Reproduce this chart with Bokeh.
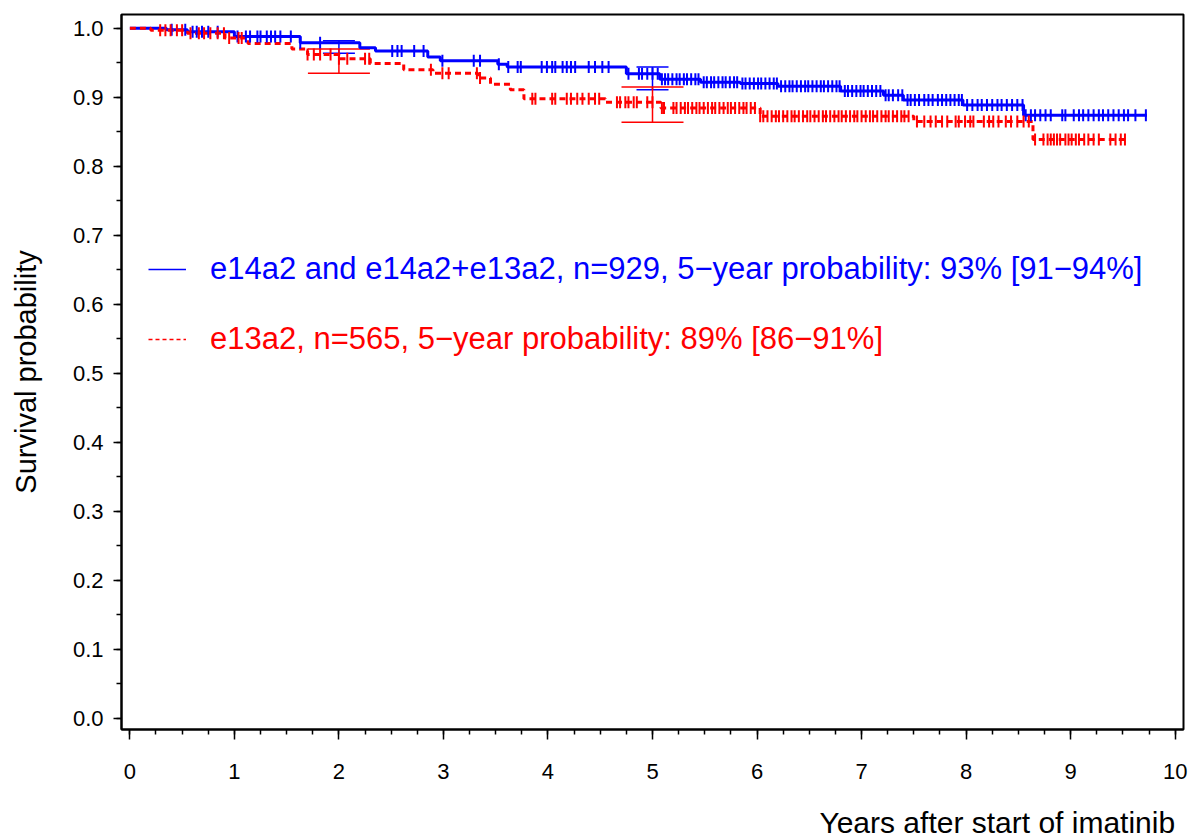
import numpy as np
from bokeh.plotting import figure
from bokeh.layouts import column
from bokeh.models import (Range1d, Whisker, TeeHead, ColumnDataSource, Legend,
                          LegendItem, Label, FixedTicker, NumeralTickFormatter)
from bokeh.embed import file_html
from bokeh.resources import INLINE

# ---------------- data ----------------
blue_label = "e14a2 and e14a2+e13a2, n=929, 5\u2212year probability: 93% [91\u221294%]"
red_label = "e13a2, n=565, 5\u2212year probability: 89% [86\u221291%]"

blue_t = [0, 0.35, 0.55, 1.0, 1.63, 2.20, 2.35, 2.85, 2.97, 3.52, 3.61, 4.75, 5.07,
          5.46, 5.84, 6.20, 6.80, 7.21, 7.40, 7.97, 8.55, 9.73]
blue_s = [1.0, 0.998, 0.995, 0.988, 0.979, 0.972, 0.967, 0.9585, 0.953, 0.948, 0.944,
          0.934, 0.926, 0.922, 0.920, 0.916, 0.909, 0.903, 0.896, 0.889, 0.874, 0.874]

red_t = [0, 0.20, 0.55, 0.91, 1.13, 1.55, 1.70, 2.00, 2.30, 2.62, 2.90, 3.33, 3.45,
         3.64, 3.77, 4.55, 5.08, 6.03, 7.50, 8.64, 9.55]
red_s = [1.0, 0.997, 0.993, 0.986, 0.978, 0.970, 0.962, 0.956, 0.949, 0.940, 0.935,
         0.928, 0.919, 0.911, 0.898, 0.893, 0.8845, 0.8725, 0.865, 0.839, 0.839]

blue_censor = [0.40, 0.53, 0.60, 0.64, 0.69, 0.75, 0.84, 1.03, 1.11, 1.15, 1.22, 1.25,
               1.31, 1.35, 1.39, 1.44, 1.54, 1.63, 1.82, 2.51, 2.56, 2.60, 2.72, 2.81,
               2.99, 3.29, 3.35, 3.53, 3.62, 3.71, 3.74, 3.94, 3.99, 4.04, 4.07, 4.14,
               4.18, 4.22, 4.26, 4.39, 4.45, 4.52, 4.58, 4.77, 4.87, 4.90, 4.95, 5.00,
               5.05, 5.09, 5.12, 5.15, 5.19, 5.23, 5.26, 5.30, 5.33, 5.37, 5.41, 5.44,
               5.49, 5.52, 5.56, 5.59, 5.63, 5.67, 5.70, 5.74, 5.78, 5.81, 5.86, 5.89,
               5.93, 5.97, 6.01, 6.04, 6.08, 6.12, 6.16, 6.19, 6.23, 6.27, 6.31, 6.34,
               6.38, 6.42, 6.46, 6.49, 6.53, 6.57, 6.61, 6.64, 6.68, 6.72, 6.76, 6.79,
               6.84, 6.87, 6.91, 6.95, 6.99, 7.02, 7.06, 7.10, 7.14, 7.18, 7.23, 7.26,
               7.30, 7.35, 7.39, 7.44, 7.47, 7.51, 7.55, 7.60, 7.64, 7.68, 7.73, 7.77,
               7.81, 7.85, 7.89, 7.93, 7.96, 8.01, 8.06, 8.11, 8.15, 8.20, 8.25, 8.30,
               8.34, 8.39, 8.44, 8.49, 8.54, 8.57, 8.62, 8.66, 8.71, 8.76, 8.81, 8.92,
               8.95, 9.03, 9.08, 9.12, 9.17, 9.22, 9.27, 9.31, 9.36, 9.41, 9.46, 9.51,
               9.55, 9.62, 9.72]

red_censor = [0.29, 0.34, 0.39, 0.45, 0.50, 0.58, 0.66, 0.71, 0.77, 0.84, 0.90, 0.95,
              1.04, 1.07, 1.70, 1.76, 1.82, 1.92, 2.00, 2.08, 2.25, 2.29, 2.88, 2.99,
              3.05, 3.32, 3.35, 3.85, 3.88, 4.04, 4.07, 4.18, 4.22, 4.28, 4.33, 4.39,
              4.45, 4.49, 4.66, 4.69, 4.74, 4.77, 4.82, 4.85, 4.95, 5.00, 5.09, 5.11,
              5.20, 5.23, 5.27, 5.31, 5.34, 5.38, 5.42, 5.45, 5.49, 5.53, 5.57, 5.60,
              5.64, 5.68, 5.72, 5.75, 5.79, 5.83, 5.87, 5.90, 5.94, 5.98, 6.03, 6.06,
              6.10, 6.14, 6.18, 6.21, 6.25, 6.29, 6.33, 6.36, 6.40, 6.44, 6.48, 6.51,
              6.55, 6.59, 6.63, 6.66, 6.70, 6.74, 6.78, 6.81, 6.85, 6.89, 6.93, 6.96,
              7.00, 7.04, 7.08, 7.11, 7.15, 7.19, 7.23, 7.26, 7.30, 7.34, 7.38, 7.41,
              7.45, 7.53, 7.60, 7.66, 7.71, 7.77, 7.82, 7.90, 7.93, 7.99, 8.04, 8.07,
              8.17, 8.22, 8.26, 8.31, 8.38, 8.43, 8.49, 8.55, 8.60, 8.66, 8.74, 8.78,
              8.81, 8.84, 8.87, 8.90, 8.95, 8.98, 9.01, 9.05, 9.08, 9.13, 9.17, 9.22,
              9.27, 9.38, 9.43, 9.48, 9.52]

ci_t = [2, 5]
blue_lo = [0.964, 0.911]
blue_hi = [0.982, 0.944]
red_lo = [0.935, 0.864]
red_hi = [0.970, 0.915]

x_ticks = [0, 1, 2, 3, 4, 5, 6, 7, 8, 9, 10]
y_ticks = [0.0, 0.1, 0.2, 0.3, 0.4, 0.5, 0.6, 0.7, 0.8, 0.9, 1.0]

y_label = "Survival probability"
x_label = "Years after start of imatinib"

BLUE = "#0000ff"
RED = "#ff0000"
FONT = "Liberation Sans"


def step_value(times, surv, t):
    idx = np.searchsorted(np.asarray(times), np.asarray(t), side="right") - 1
    return list(np.asarray(surv)[idx])


# ---------------- main figure ----------------
x_range = Range1d(-0.08, 10.08)
p = figure(width=1193, height=800, output_backend="svg", toolbar_location=None,
           x_range=x_range, y_range=Range1d(-0.016, 1.020),
           min_border_left=121, min_border_right=10, min_border_top=14,
           min_border_bottom=71)
p.grid.visible = False
p.outline_line_color = "black"
p.outline_line_width = 2
p.background_fill_color = "white"
p.border_fill_color = "white"

# axes
p.xaxis.ticker = FixedTicker(ticks=x_ticks,
                             minor_ticks=list(np.arange(0, 10.01, 0.25)))
p.yaxis.ticker = FixedTicker(ticks=y_ticks,
                             minor_ticks=list(np.arange(0, 1.001, 0.05)))
p.yaxis.formatter = NumeralTickFormatter(format="0.0")
for ax in (p.xaxis, p.yaxis):
    ax.axis_line_color = "black"
    ax.axis_line_width = 2
    ax.major_tick_line_color = "black"
    ax.major_tick_line_width = 1.5
    ax.minor_tick_line_color = "black"
    ax.minor_tick_line_width = 1.5
    ax.major_tick_in = 0
    ax.minor_tick_in = 0
    ax.major_label_text_font = FONT
    ax.major_label_text_font_size = "22px"
    ax.major_label_text_color = "black"
p.xaxis.major_tick_out = 10
p.xaxis.minor_tick_out = 5
p.xaxis.major_label_standoff = 24
p.yaxis.major_tick_out = 8
p.yaxis.minor_tick_out = 5
p.yaxis.major_label_standoff = 10
p.yaxis.axis_label = y_label
p.yaxis.axis_label_text_font = FONT
p.yaxis.axis_label_text_font_size = "29px"
p.yaxis.axis_label_text_font_style = "normal"
p.yaxis.axis_label_text_color = "black"
p.yaxis.axis_label_standoff = 28

# curves
p.step(blue_t, blue_s, mode="after", line_color=BLUE, line_width=3)
p.step(red_t, red_s, mode="after", line_color=RED, line_width=3, line_dash="6 4")

p.scatter(blue_censor, step_value(blue_t, blue_s, blue_censor), marker="dash",
          angle=np.pi / 2, size=12, line_color=BLUE, line_width=2)
p.scatter(red_censor, step_value(red_t, red_s, red_censor), marker="dash",
          angle=np.pi / 2, size=12, line_color=RED, line_width=2)

# confidence bars
src_b = ColumnDataSource(dict(t=ci_t, lo=blue_lo, hi=blue_hi))
src_r = ColumnDataSource(dict(t=ci_t, lo=red_lo, hi=red_hi))
p.add_layout(Whisker(base="t", lower="lo", upper="hi", source=src_b, dimension="height",
                     line_color=BLUE, line_width=1.5,
                     upper_head=TeeHead(size=32, line_color=BLUE, line_width=1.5),
                     lower_head=TeeHead(size=32, line_color=BLUE, line_width=1.5)))
p.add_layout(Whisker(base="t", lower="lo", upper="hi", source=src_r, dimension="height",
                     line_color=RED, line_width=1.5,
                     upper_head=TeeHead(size=62, line_color=RED, line_width=1.5),
                     lower_head=TeeHead(size=62, line_color=RED, line_width=1.5)))

# legend sample renderers (single NaN point so nothing is drawn in the plot)
lb = p.line([np.nan], [np.nan], line_color=BLUE, line_width=1.5)
lr = p.line([np.nan], [np.nan], line_color=RED, line_width=1.5, line_dash="4 3")


def make_legend(label, rend, color, loc):
    return Legend(items=[LegendItem(label=label, renderers=[rend])], location=loc,
                  label_text_font=FONT, label_text_font_size="31px",
                  label_text_color=color, glyph_width=38, glyph_height=30,
                  label_height=30, label_standoff=24, padding=0, margin=0,
                  spacing=0, border_line_alpha=0, background_fill_alpha=0)


p.add_layout(make_legend(blue_label, lb, BLUE, (27, 442)))
p.add_layout(make_legend(red_label, lr, RED, (27, 372)))

# ---------------- strip below holding the x-axis title ----------------
p2 = figure(width=1193, height=40, output_backend="svg", toolbar_location=None,
            x_range=x_range, y_range=Range1d(0, 1), x_axis_type=None,
            y_axis_type=None, min_border_left=121, min_border_right=10,
            min_border_top=0, min_border_bottom=0)
p2.grid.visible = False
p2.outline_line_color = None
p2.background_fill_color = "white"
p2.border_fill_color = "white"
p2.add_layout(Label(x=x_ticks[-1], y=18, x_units="data", y_units="screen",
                    text=x_label, text_align="right", text_baseline="alphabetic",
                    text_font=FONT, text_font_size="30px", text_color="black"))

open("out.html", "w").write(file_html(column(p, p2, spacing=0), INLINE))
